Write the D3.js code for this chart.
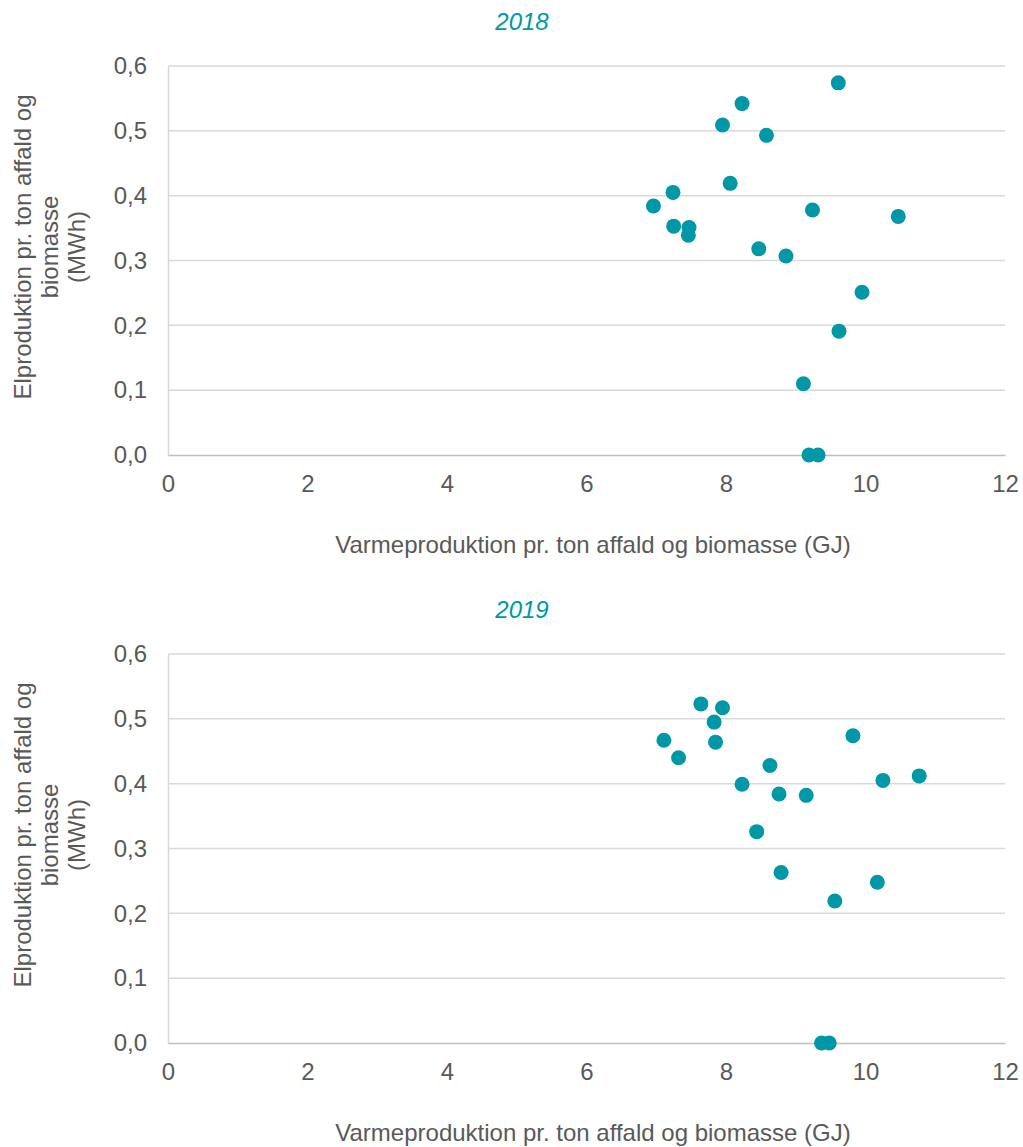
<!DOCTYPE html>
<html lang="da">
<head>
<meta charset="UTF-8">
<title>Elproduktion vs varmeproduktion</title>
<script src="https://d3js.org/d3.v7.min.js"></script>
<style>
  body { margin: 0; background: #fff; }
  text { font-family: "Liberation Sans", Arial, sans-serif; }
</style>
</head>
<body>
<svg width="1023" height="1147"></svg>
<script>
// data
const years = ["2018", "2019"];

const heat2018 = [9.61, 8.23, 7.95, 8.58, 8.06, 7.24, 6.96, 9.24, 10.47, 7.25, 7.47, 7.46, 8.47, 8.86, 9.95, 9.62, 9.11, 9.19, 9.32];
const power2018 = [0.574, 0.542, 0.509, 0.493, 0.419, 0.405, 0.384, 0.378, 0.368, 0.353, 0.351, 0.339, 0.318, 0.307, 0.251, 0.191, 0.110, 0.0, 0.0];

const heat2019 = [7.64, 7.95, 7.83, 7.11, 7.85, 9.82, 7.32, 8.63, 8.23, 8.76, 9.15, 10.25, 10.77, 8.44, 8.79, 10.17, 9.56, 9.37, 9.48];
const power2019 = [0.523, 0.517, 0.495, 0.467, 0.464, 0.474, 0.440, 0.428, 0.399, 0.384, 0.382, 0.405, 0.412, 0.326, 0.263, 0.248, 0.219, 0.0, 0.0];

const xTicks = [0, 2, 4, 6, 8, 10, 12];
const yTicks = [0, 0.1, 0.2, 0.3, 0.4, 0.5, 0.6];

const xTitle = "Varmeproduktion pr. ton affald og biomasse (GJ)";
const yTitle = ["Elproduktion pr. ton affald og", "biomasse", "(MWh)"];

const teal = "#0097a7", grid = "#d9d9d9", txt = "#595959";
const fs = 24;
const svg = d3.select("svg");
const fmt = d => d.toFixed(1).replace(".", ",");

const panels = [
  { year: years[0], xs: heat2018, ys: power2018, top: 66 },
  { year: years[1], xs: heat2019, ys: power2019, top: 654 }
];

const left = 168, right = 1005, plotH = 389;
const x = d3.scaleLinear().domain([0, 12]).range([left, right]);

panels.forEach(p => {
  const y = d3.scaleLinear().domain([0, 0.6]).range([p.top + plotH, p.top]);
  const g = svg.append("g");

  // title
  g.append("text")
    .attr("x", 522).attr("y", p.top - 36)
    .attr("text-anchor", "middle")
    .attr("font-size", fs).attr("font-style", "italic")
    .attr("fill", teal)
    .text(p.year);

  // gridlines
  g.append("g").selectAll("line")
    .data(yTicks.filter(t => t > 0))
    .join("line")
    .attr("x1", left).attr("x2", right)
    .attr("y1", d => y(d)).attr("y2", d => y(d))
    .attr("stroke", grid).attr("stroke-width", 1.5);

  // y axis
  const ya = g.append("g").attr("transform", `translate(${left},0)`)
    .call(d3.axisLeft(y).tickValues(yTicks).tickFormat(fmt).tickSize(0).tickPadding(21));
  ya.select(".domain").attr("stroke", grid).attr("stroke-width", 1.5);
  ya.selectAll("text").attr("font-size", fs).attr("fill", txt)
    .style("font-family", '"Liberation Sans", Arial, sans-serif');

  // x axis
  const xa = g.append("g").attr("transform", `translate(0,${p.top + plotH})`)
    .call(d3.axisBottom(x).tickValues(xTicks).tickFormat(d3.format("d")).tickSize(0).tickPadding(20));
  xa.select(".domain").attr("stroke", "#bfbfbf").attr("stroke-width", 1.5);
  xa.selectAll("text").attr("font-size", fs).attr("fill", txt)
    .style("font-family", '"Liberation Sans", Arial, sans-serif');

  // axis titles
  g.append("text")
    .attr("x", 593).attr("y", p.top + plotH + 98)
    .attr("text-anchor", "middle")
    .attr("font-size", fs).attr("fill", txt)
    .text(xTitle);

  const yt = g.append("text")
    .attr("transform", `translate(31,${p.top + 181}) rotate(-90)`)
    .attr("text-anchor", "middle")
    .attr("font-size", fs).attr("fill", txt);
  yTitle.forEach((s, i) => {
    yt.append("tspan").attr("x", 0).attr("dy", i === 0 ? 0 : 27).text(s);
  });

  // points
  g.append("g").selectAll("circle")
    .data(p.xs.map((v, i) => [v, p.ys[i]]))
    .join("circle")
    .attr("cx", d => x(d[0])).attr("cy", d => y(d[1]))
    .attr("r", 7.5)
    .attr("fill", teal);
});
</script>
</body>
</html>
